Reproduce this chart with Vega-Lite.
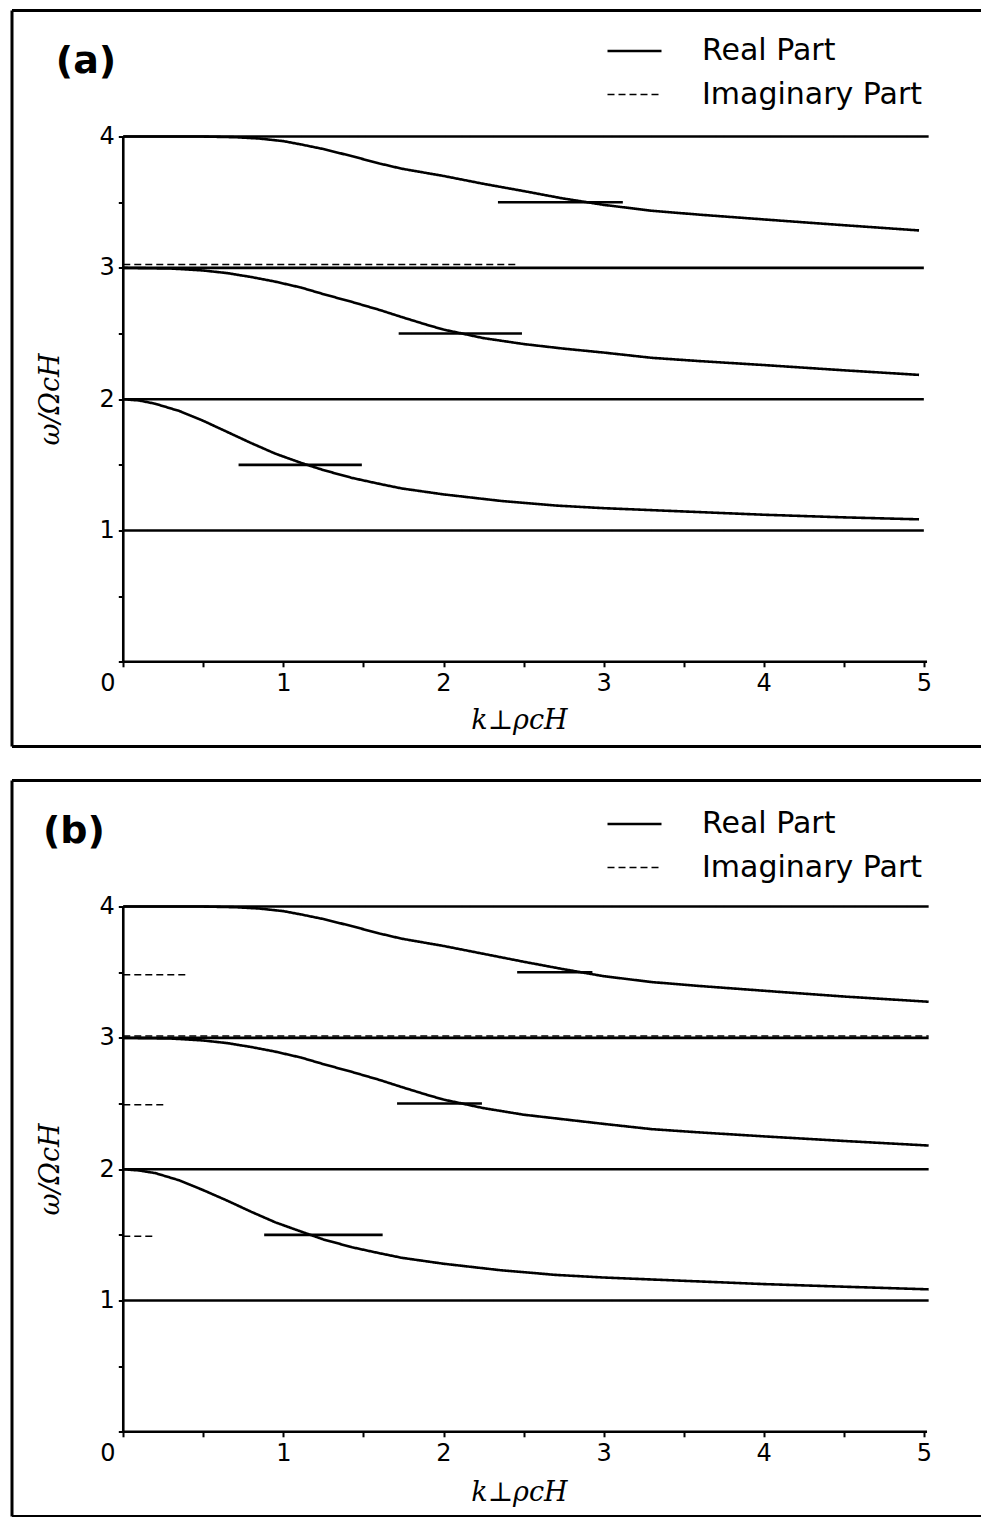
{
  "$schema": "https://vega.github.io/schema/vega-lite/v6.json",
  "background": "white",
  "padding": {"left": 10, "top": 8.5, "right": 0, "bottom": 0},
  "spacing": 30,
  "config": {
    "view": {"stroke": null},
    "axis": {
      "domain": false, "grid": false, "tickColor": "black", "tickWidth": 2, "tickSize": 5,
      "labelFont": "DejaVu Sans", "labelFontSize": 24, "labelColor": "black",
      "labelOverlap": false, "labelBound": false, "labelFlush": false,
      "titleFont": "DejaVu Serif", "titleFontStyle": "italic", "titleFontWeight": "normal",
      "titleFontSize": 27, "titleColor": "black", "titleBaseline": "middle", "titleAlign": "center"
    },
    "legend": {
      "title": null, "orient": "none", "padding": 0,
      "symbolType": "stroke", "symbolSize": 2916, "symbolStrokeWidth": 3, "symbolStrokeColor": "black",
      "labelFont": "DejaVu Sans", "labelFontSize": 30, "labelColor": "black", "labelOffset": 39,
      "labelLimit": 400, "rowPadding": 0
    }
  },
  "datasets": {
    "a": [
      {"s": "h4", "part": "Real Part", "k": 0, "w": 4}, {"s": "h4", "part": "Real Part", "k": 5.03, "w": 4},
      {"s": "h3", "part": "Real Part", "k": 0, "w": 3}, {"s": "h3", "part": "Real Part", "k": 5.0, "w": 3},
      {"s": "h2", "part": "Real Part", "k": 0, "w": 2}, {"s": "h2", "part": "Real Part", "k": 5.0, "w": 2},
      {"s": "h1", "part": "Real Part", "k": 0, "w": 1}, {"s": "h1", "part": "Real Part", "k": 5.0, "w": 1},
      {"s": "c4", "part": "Real Part", "k": 0, "w": 4}, {"s": "c4", "part": "Real Part", "k": 0.5, "w": 4.0},
      {"s": "c4", "part": "Real Part", "k": 0.7, "w": 3.995}, {"s": "c4", "part": "Real Part", "k": 0.85, "w": 3.985},
      {"s": "c4", "part": "Real Part", "k": 1.0, "w": 3.965}, {"s": "c4", "part": "Real Part", "k": 1.11, "w": 3.94},
      {"s": "c4", "part": "Real Part", "k": 1.25, "w": 3.905}, {"s": "c4", "part": "Real Part", "k": 1.43, "w": 3.85},
      {"s": "c4", "part": "Real Part", "k": 1.6, "w": 3.795}, {"s": "c4", "part": "Real Part", "k": 1.74, "w": 3.755},
      {"s": "c4", "part": "Real Part", "k": 2.0, "w": 3.7}, {"s": "c4", "part": "Real Part", "k": 2.25, "w": 3.64},
      {"s": "c4", "part": "Real Part", "k": 2.5, "w": 3.585}, {"s": "c4", "part": "Real Part", "k": 2.74, "w": 3.53},
      {"s": "c4", "part": "Real Part", "k": 3.0, "w": 3.48}, {"s": "c4", "part": "Real Part", "k": 3.3, "w": 3.435},
      {"s": "c4", "part": "Real Part", "k": 3.6, "w": 3.405}, {"s": "c4", "part": "Real Part", "k": 4.1, "w": 3.36},
      {"s": "c4", "part": "Real Part", "k": 4.5, "w": 3.325}, {"s": "c4", "part": "Real Part", "k": 4.97, "w": 3.285},
      {"s": "c3", "part": "Real Part", "k": 0, "w": 3}, {"s": "c3", "part": "Real Part", "k": 0.3, "w": 2.995},
      {"s": "c3", "part": "Real Part", "k": 0.5, "w": 2.98}, {"s": "c3", "part": "Real Part", "k": 0.65, "w": 2.96},
      {"s": "c3", "part": "Real Part", "k": 0.8, "w": 2.93}, {"s": "c3", "part": "Real Part", "k": 0.95, "w": 2.895},
      {"s": "c3", "part": "Real Part", "k": 1.11, "w": 2.85}, {"s": "c3", "part": "Real Part", "k": 1.25, "w": 2.8},
      {"s": "c3", "part": "Real Part", "k": 1.43, "w": 2.74}, {"s": "c3", "part": "Real Part", "k": 1.6, "w": 2.68},
      {"s": "c3", "part": "Real Part", "k": 1.74, "w": 2.625}, {"s": "c3", "part": "Real Part", "k": 1.9, "w": 2.565},
      {"s": "c3", "part": "Real Part", "k": 2.0, "w": 2.53}, {"s": "c3", "part": "Real Part", "k": 2.25, "w": 2.465},
      {"s": "c3", "part": "Real Part", "k": 2.5, "w": 2.42}, {"s": "c3", "part": "Real Part", "k": 2.75, "w": 2.385},
      {"s": "c3", "part": "Real Part", "k": 3.0, "w": 2.355}, {"s": "c3", "part": "Real Part", "k": 3.3, "w": 2.315},
      {"s": "c3", "part": "Real Part", "k": 3.6, "w": 2.29}, {"s": "c3", "part": "Real Part", "k": 4.0, "w": 2.26},
      {"s": "c3", "part": "Real Part", "k": 4.5, "w": 2.22}, {"s": "c3", "part": "Real Part", "k": 4.97, "w": 2.185},
      {"s": "c2", "part": "Real Part", "k": 0, "w": 2}, {"s": "c2", "part": "Real Part", "k": 0.1, "w": 1.99},
      {"s": "c2", "part": "Real Part", "k": 0.2, "w": 1.965}, {"s": "c2", "part": "Real Part", "k": 0.35, "w": 1.91},
      {"s": "c2", "part": "Real Part", "k": 0.5, "w": 1.835}, {"s": "c2", "part": "Real Part", "k": 0.65, "w": 1.75},
      {"s": "c2", "part": "Real Part", "k": 0.8, "w": 1.665}, {"s": "c2", "part": "Real Part", "k": 0.95, "w": 1.585},
      {"s": "c2", "part": "Real Part", "k": 1.11, "w": 1.515}, {"s": "c2", "part": "Real Part", "k": 1.25, "w": 1.46},
      {"s": "c2", "part": "Real Part", "k": 1.43, "w": 1.4}, {"s": "c2", "part": "Real Part", "k": 1.6, "w": 1.355},
      {"s": "c2", "part": "Real Part", "k": 1.74, "w": 1.32}, {"s": "c2", "part": "Real Part", "k": 2.0, "w": 1.275},
      {"s": "c2", "part": "Real Part", "k": 2.36, "w": 1.225}, {"s": "c2", "part": "Real Part", "k": 2.7, "w": 1.19},
      {"s": "c2", "part": "Real Part", "k": 3.0, "w": 1.17}, {"s": "c2", "part": "Real Part", "k": 3.3, "w": 1.155},
      {"s": "c2", "part": "Real Part", "k": 3.7, "w": 1.135}, {"s": "c2", "part": "Real Part", "k": 4.0, "w": 1.12},
      {"s": "c2", "part": "Real Part", "k": 4.5, "w": 1.1}, {"s": "c2", "part": "Real Part", "k": 4.97, "w": 1.085},
      {"s": "m35", "part": "Real Part", "k": 2.34, "w": 3.5}, {"s": "m35", "part": "Real Part", "k": 3.12, "w": 3.5},
      {"s": "m25", "part": "Real Part", "k": 1.72, "w": 2.5}, {"s": "m25", "part": "Real Part", "k": 2.49, "w": 2.5},
      {"s": "m15", "part": "Real Part", "k": 0.72, "w": 1.5}, {"s": "m15", "part": "Real Part", "k": 1.49, "w": 1.5},
      {"s": "i3", "part": "Imaginary Part", "k": 0, "w": 3.025}, {"s": "i3", "part": "Imaginary Part", "k": 2.45, "w": 3.025}
    ],
    "b": [
      {"s": "h4", "part": "Real Part", "k": 0, "w": 4}, {"s": "h4", "part": "Real Part", "k": 5.03, "w": 4},
      {"s": "h3", "part": "Real Part", "k": 0, "w": 3}, {"s": "h3", "part": "Real Part", "k": 5.03, "w": 3},
      {"s": "h2", "part": "Real Part", "k": 0, "w": 2}, {"s": "h2", "part": "Real Part", "k": 5.03, "w": 2},
      {"s": "h1", "part": "Real Part", "k": 0, "w": 1}, {"s": "h1", "part": "Real Part", "k": 5.03, "w": 1},
      {"s": "c4", "part": "Real Part", "k": 0, "w": 4}, {"s": "c4", "part": "Real Part", "k": 0.5, "w": 4.0},
      {"s": "c4", "part": "Real Part", "k": 0.7, "w": 3.995}, {"s": "c4", "part": "Real Part", "k": 0.85, "w": 3.985},
      {"s": "c4", "part": "Real Part", "k": 1.0, "w": 3.965}, {"s": "c4", "part": "Real Part", "k": 1.11, "w": 3.94},
      {"s": "c4", "part": "Real Part", "k": 1.25, "w": 3.905}, {"s": "c4", "part": "Real Part", "k": 1.43, "w": 3.85},
      {"s": "c4", "part": "Real Part", "k": 1.6, "w": 3.795}, {"s": "c4", "part": "Real Part", "k": 1.74, "w": 3.755},
      {"s": "c4", "part": "Real Part", "k": 2.0, "w": 3.7}, {"s": "c4", "part": "Real Part", "k": 2.25, "w": 3.64},
      {"s": "c4", "part": "Real Part", "k": 2.5, "w": 3.58}, {"s": "c4", "part": "Real Part", "k": 2.74, "w": 3.525},
      {"s": "c4", "part": "Real Part", "k": 3.0, "w": 3.47}, {"s": "c4", "part": "Real Part", "k": 3.3, "w": 3.425},
      {"s": "c4", "part": "Real Part", "k": 3.6, "w": 3.395}, {"s": "c4", "part": "Real Part", "k": 4.1, "w": 3.35},
      {"s": "c4", "part": "Real Part", "k": 4.5, "w": 3.315}, {"s": "c4", "part": "Real Part", "k": 5.03, "w": 3.275},
      {"s": "c3", "part": "Real Part", "k": 0, "w": 3}, {"s": "c3", "part": "Real Part", "k": 0.3, "w": 2.995},
      {"s": "c3", "part": "Real Part", "k": 0.5, "w": 2.98}, {"s": "c3", "part": "Real Part", "k": 0.65, "w": 2.96},
      {"s": "c3", "part": "Real Part", "k": 0.8, "w": 2.93}, {"s": "c3", "part": "Real Part", "k": 0.95, "w": 2.895},
      {"s": "c3", "part": "Real Part", "k": 1.11, "w": 2.85}, {"s": "c3", "part": "Real Part", "k": 1.25, "w": 2.8},
      {"s": "c3", "part": "Real Part", "k": 1.43, "w": 2.74}, {"s": "c3", "part": "Real Part", "k": 1.6, "w": 2.68},
      {"s": "c3", "part": "Real Part", "k": 1.74, "w": 2.625}, {"s": "c3", "part": "Real Part", "k": 1.9, "w": 2.565},
      {"s": "c3", "part": "Real Part", "k": 2.0, "w": 2.53}, {"s": "c3", "part": "Real Part", "k": 2.25, "w": 2.465},
      {"s": "c3", "part": "Real Part", "k": 2.5, "w": 2.415}, {"s": "c3", "part": "Real Part", "k": 2.75, "w": 2.38},
      {"s": "c3", "part": "Real Part", "k": 3.0, "w": 2.345}, {"s": "c3", "part": "Real Part", "k": 3.3, "w": 2.305},
      {"s": "c3", "part": "Real Part", "k": 3.6, "w": 2.28}, {"s": "c3", "part": "Real Part", "k": 4.0, "w": 2.25},
      {"s": "c3", "part": "Real Part", "k": 4.5, "w": 2.215}, {"s": "c3", "part": "Real Part", "k": 5.03, "w": 2.18},
      {"s": "c2", "part": "Real Part", "k": 0, "w": 2}, {"s": "c2", "part": "Real Part", "k": 0.1, "w": 1.99},
      {"s": "c2", "part": "Real Part", "k": 0.2, "w": 1.97}, {"s": "c2", "part": "Real Part", "k": 0.35, "w": 1.915},
      {"s": "c2", "part": "Real Part", "k": 0.5, "w": 1.84}, {"s": "c2", "part": "Real Part", "k": 0.65, "w": 1.76},
      {"s": "c2", "part": "Real Part", "k": 0.8, "w": 1.675}, {"s": "c2", "part": "Real Part", "k": 0.95, "w": 1.595},
      {"s": "c2", "part": "Real Part", "k": 1.11, "w": 1.525}, {"s": "c2", "part": "Real Part", "k": 1.25, "w": 1.465},
      {"s": "c2", "part": "Real Part", "k": 1.43, "w": 1.405}, {"s": "c2", "part": "Real Part", "k": 1.6, "w": 1.36},
      {"s": "c2", "part": "Real Part", "k": 1.74, "w": 1.325}, {"s": "c2", "part": "Real Part", "k": 2.0, "w": 1.28},
      {"s": "c2", "part": "Real Part", "k": 2.36, "w": 1.23}, {"s": "c2", "part": "Real Part", "k": 2.7, "w": 1.195},
      {"s": "c2", "part": "Real Part", "k": 3.0, "w": 1.175}, {"s": "c2", "part": "Real Part", "k": 3.3, "w": 1.16},
      {"s": "c2", "part": "Real Part", "k": 3.7, "w": 1.14}, {"s": "c2", "part": "Real Part", "k": 4.0, "w": 1.125},
      {"s": "c2", "part": "Real Part", "k": 4.5, "w": 1.105}, {"s": "c2", "part": "Real Part", "k": 5.03, "w": 1.085},
      {"s": "m35", "part": "Real Part", "k": 2.46, "w": 3.5}, {"s": "m35", "part": "Real Part", "k": 2.93, "w": 3.5},
      {"s": "m25", "part": "Real Part", "k": 1.71, "w": 2.5}, {"s": "m25", "part": "Real Part", "k": 2.24, "w": 2.5},
      {"s": "m15", "part": "Real Part", "k": 0.88, "w": 1.5}, {"s": "m15", "part": "Real Part", "k": 1.62, "w": 1.5},
      {"s": "i3", "part": "Imaginary Part", "k": 0, "w": 3.015}, {"s": "i3", "part": "Imaginary Part", "k": 5.03, "w": 3.015},
      {"s": "i35", "part": "Imaginary Part", "k": 0, "w": 3.48}, {"s": "i35", "part": "Imaginary Part", "k": 0.39, "w": 3.48},
      {"s": "i25", "part": "Imaginary Part", "k": 0, "w": 2.49}, {"s": "i25", "part": "Imaginary Part", "k": 0.27, "w": 2.49},
      {"s": "i15", "part": "Imaginary Part", "k": 0, "w": 1.49}, {"s": "i15", "part": "Imaginary Part", "k": 0.19, "w": 1.49}
    ]
  },
  "vconcat": [
    {
      "width": 969, "height": 736,
      "layer": [
        {
          "data": {"name": "a"},
          "mark": {"type": "line", "color": "black", "strokeCap": "butt"},
          "encoding": {
            "x": {"field": "k", "type": "quantitative",
              "scale": {"domain": [-0.695, 5.357], "nice": false, "zero": false},
              "axis": {"values": [0, 0.5, 1, 1.5, 2, 2.5, 3, 3.5, 4, 4.5, 5],
                "labelExpr": "datum.value % 1 === 0 ? format(datum.value, 'd') : ''",
                "offset": -84.7, "labelPadding": 5,
                "labelOffset": {"condition": {"test": "datum.value === 0", "value": -16}, "value": 0},
                "title": "k⊥ρcH", "titleX": 507, "titleY": 59}},
            "y": {"field": "w", "type": "quantitative",
              "scale": {"domain": [-0.645, 4.96], "nice": false, "zero": false},
              "axis": {"values": [0, 0.5, 1, 1.5, 2, 2.5, 3, 3.5, 4],
                "labelExpr": "datum.value % 1 === 0 && datum.value > 0 ? format(datum.value, 'd') : ''",
                "offset": -111.3, "labelPadding": 4,
                "title": "ω/ΩcH", "titleAngle": 270, "titleX": -73, "titleY": 388.5}},
            "detail": {"field": "s"},
            "strokeDash": {"field": "part", "type": "nominal",
              "scale": {"domain": ["Real Part", "Imaginary Part"], "range": [[1, 0], [7, 4]]},
              "legend": {"orient": "none", "legendX": 594, "legendY": 12}},
            "strokeWidth": {"field": "part", "type": "nominal",
              "scale": {"domain": ["Real Part", "Imaginary Part"], "range": [2.6, 1.5]}, "legend": null}
          }
        },
        {
          "data": {"values": [{}]},
          "mark": {"type": "rule", "color": "black", "strokeWidth": 2.6},
          "encoding": {"x": {"datum": 0}, "x2": {"datum": 5.02}, "y": {"datum": 0}}
        },
        {
          "data": {"values": [{}]},
          "mark": {"type": "rule", "color": "black", "strokeWidth": 2.6},
          "encoding": {"x": {"datum": 0}, "y": {"datum": 0}, "y2": {"datum": 4}}
        },
        {
          "data": {"values": [{}]},
          "mark": {"type": "rule", "color": "black", "strokeWidth": 3},
          "encoding": {"x": {"datum": -0.695}, "y": {"datum": -0.645}, "y2": {"datum": 4.96}}
        },
        {
          "data": {"values": [{}]},
          "mark": {"type": "rule", "color": "black", "strokeWidth": 3},
          "encoding": {"x": {"datum": -0.695}, "x2": {"datum": 5.357}, "y": {"datum": 4.96}}
        },
        {
          "data": {"values": [{}]},
          "mark": {"type": "rule", "color": "black", "strokeWidth": 3},
          "encoding": {"x": {"datum": -0.695}, "x2": {"datum": 5.357}, "y": {"datum": -0.645}}
        },
        {
          "data": {"values": [{}]},
          "mark": {"type": "text", "text": "(a)", "font": "DejaVu Sans", "fontWeight": "bold", "fontSize": 38, "align": "center", "baseline": "middle", "color": "black"},
          "encoding": {"x": {"datum": -0.233}, "y": {"datum": 4.568}}
        }
      ]
    },
    {
      "width": 969, "height": 736,
      "layer": [
        {
          "data": {"name": "b"},
          "mark": {"type": "line", "color": "black", "strokeCap": "butt"},
          "encoding": {
            "x": {"field": "k", "type": "quantitative",
              "scale": {"domain": [-0.695, 5.357], "nice": false, "zero": false},
              "axis": {"values": [0, 0.5, 1, 1.5, 2, 2.5, 3, 3.5, 4, 4.5, 5],
                "labelExpr": "datum.value % 1 === 0 ? format(datum.value, 'd') : ''",
                "offset": -84.7, "labelPadding": 5,
                "labelOffset": {"condition": {"test": "datum.value === 0", "value": -16}, "value": 0},
                "title": "k⊥ρcH", "titleX": 507, "titleY": 61}},
            "y": {"field": "w", "type": "quantitative",
              "scale": {"domain": [-0.645, 4.96], "nice": false, "zero": false},
              "axis": {"values": [0, 0.5, 1, 1.5, 2, 2.5, 3, 3.5, 4],
                "labelExpr": "datum.value % 1 === 0 && datum.value > 0 ? format(datum.value, 'd') : ''",
                "offset": -111.3, "labelPadding": 4,
                "title": "ω/ΩcH", "titleAngle": 270, "titleX": -73, "titleY": 388.5}},
            "detail": {"field": "s"},
            "strokeDash": {"field": "part", "type": "nominal",
              "scale": {"domain": ["Real Part", "Imaginary Part"], "range": [[1, 0], [7, 4]]},
              "legend": {"orient": "none", "legendX": 594, "legendY": 15}},
            "strokeWidth": {"field": "part", "type": "nominal",
              "scale": {"domain": ["Real Part", "Imaginary Part"], "range": [2.6, 1.5]}, "legend": null}
          }
        },
        {
          "data": {"values": [{}]},
          "mark": {"type": "rule", "color": "black", "strokeWidth": 2.6},
          "encoding": {"x": {"datum": 0}, "x2": {"datum": 5.02}, "y": {"datum": 0}}
        },
        {
          "data": {"values": [{}]},
          "mark": {"type": "rule", "color": "black", "strokeWidth": 2.6},
          "encoding": {"x": {"datum": 0}, "y": {"datum": 0}, "y2": {"datum": 4}}
        },
        {
          "data": {"values": [{}]},
          "mark": {"type": "rule", "color": "black", "strokeWidth": 3},
          "encoding": {"x": {"datum": -0.695}, "y": {"datum": -0.645}, "y2": {"datum": 4.96}}
        },
        {
          "data": {"values": [{}]},
          "mark": {"type": "rule", "color": "black", "strokeWidth": 3},
          "encoding": {"x": {"datum": -0.695}, "x2": {"datum": 5.357}, "y": {"datum": 4.96}}
        },
        {
          "data": {"values": [{}]},
          "mark": {"type": "rule", "color": "black", "strokeWidth": 3},
          "encoding": {"x": {"datum": -0.695}, "x2": {"datum": 5.357}, "y": {"datum": -0.645}}
        },
        {
          "data": {"values": [{}]},
          "mark": {"type": "text", "text": "(b)", "font": "DejaVu Sans", "fontWeight": "bold", "fontSize": 38, "align": "center", "baseline": "middle", "color": "black"},
          "encoding": {"x": {"datum": -0.308}, "y": {"datum": 4.57}}
        }
      ]
    }
  ],
  "resolve": {
    "scale": {"x": "independent", "y": "independent", "strokeDash": "independent", "strokeWidth": "independent"},
    "legend": {"strokeDash": "independent"}
  }
}
